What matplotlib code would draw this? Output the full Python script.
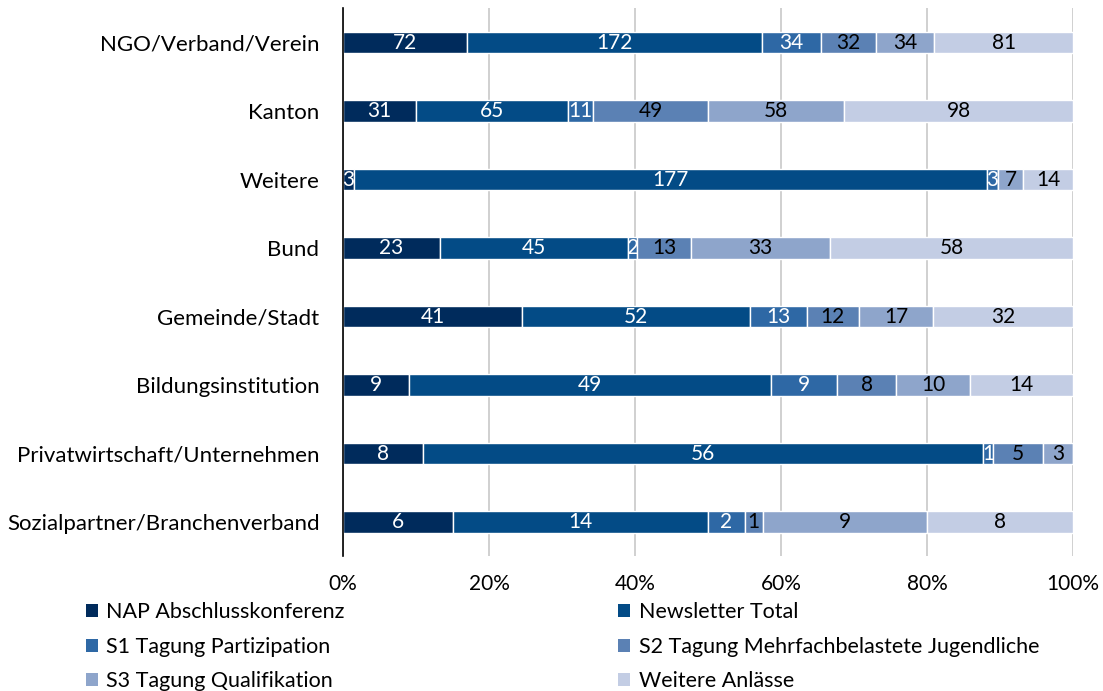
import numpy as np
import matplotlib.pyplot as plt
from matplotlib.patches import Patch

plt.rcParams['font.family'] = ['Lato', 'DejaVu Sans']

# categories, top to bottom
categories = ['NGO/Verband/Verein', 'Kanton', 'Weitere', 'Bund', 'Gemeinde/Stadt',
              'Bildungsinstitution', 'Privatwirtschaft/Unternehmen',
              'Sozialpartner/Branchenverband']

series = ['NAP Abschlusskonferenz', 'Newsletter Total', 'S1 Tagung Partizipation',
          'S2 Tagung Mehrfachbelastete Jugendliche', 'S3 Tagung Qualifikation',
          'Weitere Anlässe']

nap = [72, 31, 3, 23, 41, 9, 8, 6]
newsletter = [172, 65, 177, 45, 52, 49, 56, 14]
s1 = [34, 11, 3, 2, 13, 9, 1, 2]
s2 = [32, 49, 0, 13, 12, 8, 5, 1]
s3 = [34, 58, 7, 33, 17, 10, 3, 9]
weitere = [81, 98, 14, 58, 32, 14, 0, 8]

colors = ['#002b5c', '#034b86', '#2e68a5', '#5b81b4', '#8ea5cb', '#c3cde4']
text_colors = ['white', 'white', 'white', 'black', 'black', 'black']


def main():
    data = np.array([nap, newsletter, s1, s2, s3, weitere], dtype=float)
    shares = data / data.sum(axis=0) * 100

    fig = plt.figure(figsize=(11.03, 6.91), dpi=100)
    ax = fig.add_axes([0.311, 0.195, 0.662, 0.793])

    y = np.arange(len(categories))
    left = np.zeros(len(categories))
    for i, name in enumerate(series):
        ax.barh(y, shares[i], left=left, height=0.32, color=colors[i],
                edgecolor='white', linewidth=1, label=name, zorder=3)
        for j in range(len(categories)):
            if data[i, j] > 0:
                ax.text(left[j] + shares[i, j] / 2, y[j], f'{int(data[i, j])}',
                        ha='center', va='center', fontsize=15,
                        color=text_colors[i], zorder=4)
        left += shares[i]

    ax.set_ylim(len(categories) - 0.5, -0.5)
    ax.set_xlim(0, 100)
    ax.set_yticks(y)
    ax.set_yticklabels(categories, fontsize=16)
    ax.set_xticks(np.arange(0, 101, 20))
    ax.set_xticklabels([f'{v}%' for v in range(0, 101, 20)], fontsize=15)
    ax.tick_params(axis='y', length=0, pad=17)
    ax.tick_params(axis='x', length=0, pad=13)
    ax.grid(axis='x', color='#c8c8c8', linewidth=1.2, zorder=0)
    for s in ['top', 'right', 'bottom']:
        ax.spines[s].set_visible(False)
    ax.spines['left'].set_color('black')
    ax.spines['left'].set_linewidth(1.2)
    ax.spines['left'].set_zorder(5)

    # legend: column-wise fill, so reorder
    order = [0, 2, 4, 1, 3, 5]
    handles = [Patch(facecolor=colors[k], edgecolor='none') for k in order]
    labels = [series[k] for k in order]
    fig.legend(handles, labels, ncol=2, loc='upper left',
               bbox_to_anchor=(0.068, 0.144), frameon=False, fontsize=15.5,
               handlelength=0.55, handleheight=0.55, handletextpad=0.4,
               columnspacing=12.7, labelspacing=0.67, borderpad=0)

    fig.savefig('out.png', dpi=100)


if __name__ == '__main__':
    main()
